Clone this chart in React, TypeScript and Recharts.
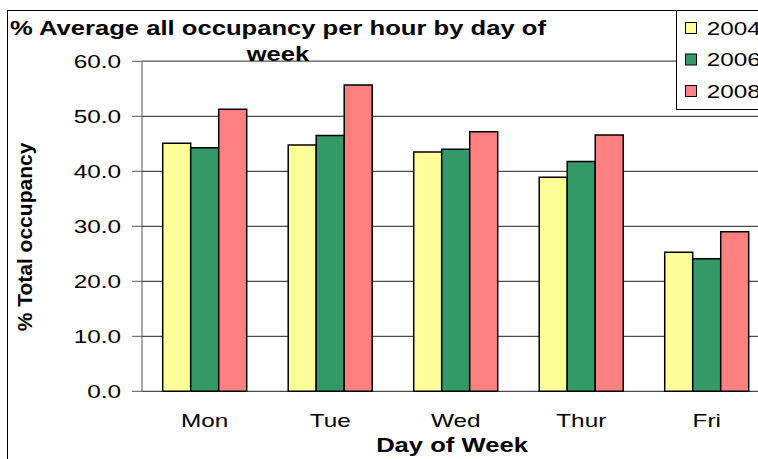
import { Bar, BarChart, CartesianGrid, ReferenceLine, XAxis, YAxis } from "recharts";

const DAYS = ["Mon", "Tue", "Wed", "Thur", "Fri"];
const YEARS = ["2004", "2006", "2008"];
const COLORS = ["#FFFF99", "#339966", "#FF8080"];
const OCC_2004 = [45.1, 44.8, 43.5, 38.9, 25.3];
const OCC_2006 = [44.3, 46.5, 44.0, 41.8, 24.1];
const OCC_2008 = [51.3, 55.7, 47.2, 46.6, 29.0];
const Y_TICKS = [0, 10, 20, 30, 40, 50, 60];
const EDGE_TICKS = DAYS.map((_, i) => i).concat(DAYS.length);

const SERIES = [OCC_2004, OCC_2006, OCC_2008];

const data = DAYS.map((day, i) => {
  const row: Record<string, string | number> = { day };
  YEARS.forEach((y, k) => {
    row[y] = SERIES[k][i];
  });
  return row;
});

const FONT = "'Liberation Sans', Arial, sans-serif";
const SX = 1.28; // the source picture is stretched sideways

const YTick = (props: any) => {
  const { x, y, payload } = props;
  return (
    <g transform={`translate(${x},${y}) scale(${SX},1)`}>
      <text x={0} y={6.8} textAnchor="end" fontSize={19} fontFamily={FONT} fill="#000">
        {Number(payload.value).toFixed(1)}
      </text>
    </g>
  );
};

const XTick = (props: any) => {
  const { x, y, payload } = props;
  return (
    <g transform={`translate(${x},${y + 36}) scale(${SX},1)`}>
      <text x={0} y={0} textAnchor="middle" fontSize={19} fontFamily={FONT} fill="#000">
        {payload.value}
      </text>
    </g>
  );
};

export default function App() {
  return (
    <div style={{ position: "absolute", left: 0, top: 0, width: 758, height: 459, overflow: "hidden", background: "#fff" }}>
      <BarChart
        width={800}
        height={459}
        data={data}
        margin={{ top: 61.3, right: 30.5, bottom: 0, left: 0 }}
        barCategoryGap="16.5%"
        barGap={0}
      >
        <CartesianGrid vertical={false} stroke="#1f1f1f" />
        <XAxis
          xAxisId="edges"
          type="number"
          domain={[0, DAYS.length]}
          ticks={EDGE_TICKS}
          tick={false}
          tickSize={7}
          height={0}
          axisLine={{ stroke: "#333" }}
          tickLine={{ stroke: "#333" }}
        />
        <XAxis
          dataKey="day"
          height={67.7}
          axisLine={false}
          tickLine={false}
          tickSize={0}
          tickMargin={0}
          tick={<XTick />}
          interval={0}
        />
        <YAxis
          width={142}
          domain={[0, 60]}
          ticks={Y_TICKS}
          tickSize={10}
          tickMargin={11}
          tick={<YTick />}
          axisLine={{ stroke: "#555" }}
          tickLine={{ stroke: "#555" }}
          interval={0}
        />
        {YEARS.map((y, k) => (
          <Bar key={y} dataKey={y} fill={COLORS[k]} stroke="#000" strokeWidth={1.5} isAnimationActive={false} />
        ))}
        <ReferenceLine y={60} stroke="#808080" strokeWidth={1.5} />
      </BarChart>

      <svg
        width={758}
        height={459}
        style={{ position: "absolute", left: 0, top: 0, pointerEvents: "none" }}
        fontFamily={FONT}
      >
        <rect x={7.5} y={10.5} width={800} height={500} fill="none" stroke="#000" />
        <g transform={`translate(278,35) scale(${SX},1)`}>
          <text textAnchor="middle" fontSize={20} fontWeight="bold" fill="#000">
            % Average all occupancy per hour by day of
          </text>
        </g>
        <g transform={`translate(278,60.7) scale(${SX},1)`}>
          <text textAnchor="middle" fontSize={20} fontWeight="bold" fill="#000">
            week
          </text>
        </g>
        <text
          transform="translate(32,237) rotate(-90)"
          textAnchor="middle"
          fontSize={21}
          fontWeight="bold"
          fill="#000"
        >
          % Total occupancy
        </text>
        <g transform={`translate(452,452) scale(${SX},1)`}>
          <text textAnchor="middle" fontSize={20} fontWeight="bold" fill="#000">
            Day of Week
          </text>
        </g>
        <rect x={676.5} y={10.5} width={100} height={99} fill="#fff" stroke="#000" />
        {YEARS.map((y, k) => {
          const cy = 28 + k * 31.5;
          return (
            <g key={y}>
              <rect x={685.5} y={cy - 5.5} width={11} height={11} fill={COLORS[k]} stroke="#000" />
              <g transform={`translate(706.7,${cy + 6.8}) scale(${SX},1)`}>
                <text fontSize={19} fill="#000">
                  {y}
                </text>
              </g>
            </g>
          );
        })}
      </svg>
    </div>
  );
}
